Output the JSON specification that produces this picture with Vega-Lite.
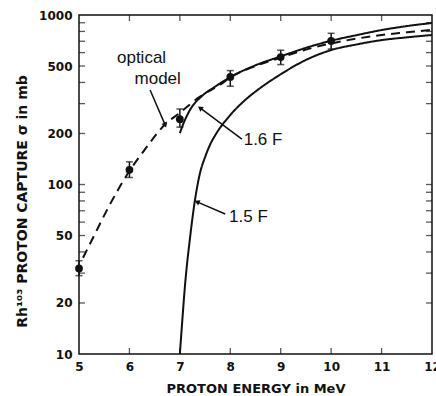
{
  "$schema": "https://vega.github.io/schema/vega-lite/v6.json",
  "width": 353,
  "height": 339,
  "autosize": {"type": "none"},
  "padding": {"left": 79, "top": 15, "right": 4, "bottom": 42},
  "background": "white",
  "config": {
    "view": {"stroke": "#111", "strokeWidth": 1.5},
    "axis": {"labelFont": "DejaVu Sans", "labelFontWeight": "bold", "labelFontSize": 12, "labelColor": "#111", "ticks": false, "domain": false, "grid": false, "titleFont": "DejaVu Sans", "titleFontWeight": "bold", "titleColor": "#111"}
  },
  "datasets": {
    "curves": [
      {"series": "optical model", "E": 5.08, "sigma": 37},
      {"series": "optical model", "E": 5.3, "sigma": 50},
      {"series": "optical model", "E": 5.6, "sigma": 75},
      {"series": "optical model", "E": 6.0, "sigma": 120},
      {"series": "optical model", "E": 6.3, "sigma": 160},
      {"series": "optical model", "E": 6.7, "sigma": 225},
      {"series": "optical model", "E": 7.0, "sigma": 265},
      {"series": "optical model", "E": 7.4, "sigma": 330},
      {"series": "optical model", "E": 7.8, "sigma": 388},
      {"series": "optical model", "E": 8.0, "sigma": 428},
      {"series": "optical model", "E": 8.5, "sigma": 500},
      {"series": "optical model", "E": 9.0, "sigma": 560},
      {"series": "optical model", "E": 9.5, "sigma": 625},
      {"series": "optical model", "E": 10.0, "sigma": 680},
      {"series": "optical model", "E": 10.5, "sigma": 725},
      {"series": "optical model", "E": 11.0, "sigma": 762},
      {"series": "optical model", "E": 11.5, "sigma": 790},
      {"series": "optical model", "E": 12.0, "sigma": 818},
      {"series": "1.6 F", "E": 7.0, "sigma": 201},
      {"series": "1.6 F", "E": 7.1, "sigma": 240},
      {"series": "1.6 F", "E": 7.2, "sigma": 275},
      {"series": "1.6 F", "E": 7.45, "sigma": 335},
      {"series": "1.6 F", "E": 7.7, "sigma": 378},
      {"series": "1.6 F", "E": 8.0, "sigma": 430},
      {"series": "1.6 F", "E": 8.5, "sigma": 505},
      {"series": "1.6 F", "E": 9.0, "sigma": 570},
      {"series": "1.6 F", "E": 9.5, "sigma": 640},
      {"series": "1.6 F", "E": 10.0, "sigma": 705},
      {"series": "1.6 F", "E": 10.5, "sigma": 760},
      {"series": "1.6 F", "E": 11.0, "sigma": 815},
      {"series": "1.6 F", "E": 11.5, "sigma": 860},
      {"series": "1.6 F", "E": 12.0, "sigma": 897},
      {"series": "1.5 F", "E": 7.0, "sigma": 10},
      {"series": "1.5 F", "E": 7.05, "sigma": 16},
      {"series": "1.5 F", "E": 7.1, "sigma": 25},
      {"series": "1.5 F", "E": 7.2, "sigma": 48},
      {"series": "1.5 F", "E": 7.3, "sigma": 81},
      {"series": "1.5 F", "E": 7.4, "sigma": 117},
      {"series": "1.5 F", "E": 7.5, "sigma": 145},
      {"series": "1.5 F", "E": 7.6, "sigma": 172},
      {"series": "1.5 F", "E": 7.7, "sigma": 195},
      {"series": "1.5 F", "E": 8.0, "sigma": 257},
      {"series": "1.5 F", "E": 8.3, "sigma": 316},
      {"series": "1.5 F", "E": 8.6, "sigma": 372},
      {"series": "1.5 F", "E": 9.0, "sigma": 447},
      {"series": "1.5 F", "E": 9.5, "sigma": 543},
      {"series": "1.5 F", "E": 10.0, "sigma": 621},
      {"series": "1.5 F", "E": 10.5, "sigma": 670},
      {"series": "1.5 F", "E": 11.0, "sigma": 711},
      {"series": "1.5 F", "E": 11.5, "sigma": 738},
      {"series": "1.5 F", "E": 12.0, "sigma": 762}
    ],
    "points": [
      {"E": 5, "sigma": 32, "lo": 29, "hi": 35.5},
      {"E": 6, "sigma": 122, "lo": 110, "hi": 136},
      {"E": 7, "sigma": 243, "lo": 218, "hi": 279},
      {"E": 8, "sigma": 431, "lo": 380, "hi": 470},
      {"E": 9, "sigma": 565, "lo": 510, "hi": 620},
      {"E": 10, "sigma": 703, "lo": 630, "hi": 780}
    ],
    "labels": [
      {"text": "optical", "E": 6.24, "sigma": 557},
      {"text": "model", "E": 6.56, "sigma": 419},
      {"text": "1.6 F", "E": 8.65, "sigma": 183},
      {"text": "1.5 F", "E": 8.36, "sigma": 64}
    ],
    "arrows": [
      {"target": "optical model", "E1": 6.41, "s1": 361, "E2": 6.71, "s2": 224},
      {"target": "1.6 F", "E1": 8.23, "s1": 185, "E2": 7.40, "s2": 283},
      {"target": "1.5 F", "E1": 7.90, "s1": 67, "E2": 7.34, "s2": 79}
    ],
    "yticks": [
      {"v": 20}, {"v": 30}, {"v": 40}, {"v": 50}, {"v": 60}, {"v": 70}, {"v": 80}, {"v": 90},
      {"v": 100}, {"v": 200}, {"v": 300}, {"v": 400}, {"v": 500}, {"v": 600}, {"v": 700}, {"v": 800}, {"v": 900}
    ],
    "xticks": [
      {"v": 6}, {"v": 7}, {"v": 8}, {"v": 9}, {"v": 10}, {"v": 11}
    ]
  },
  "layer": [
    {
      "data": {"name": "curves"},
      "mark": {"type": "line", "interpolate": "monotone", "strokeWidth": 2, "color": "#111", "clip": true},
      "encoding": {
        "x": {"field": "E", "type": "quantitative", "scale": {"domain": [5, 12], "nice": false, "zero": false},
          "axis": {"orient": "bottom", "values": [5, 6, 7, 8, 9, 10, 11, 12], "labelFlush": false, "labelPadding": 7, "title": "PROTON ENERGY in MeV", "titleFontSize": 13, "titlePadding": 10}},
        "y": {"field": "sigma", "type": "quantitative", "scale": {"type": "log", "domain": [10, 1000], "nice": false},
          "axis": {"orient": "left", "values": [10, 20, 50, 100, 200, 500, 1000], "labelFlush": false, "labelExpr": "format(datum.value, 'd')", "labelPadding": 7, "title": "Rh¹⁰³ PROTON CAPTURE σ in mb", "titleFontSize": 14, "titleX": -50, "titleY": 186}},
        "detail": {"field": "series"},
        "strokeDash": {"field": "series", "type": "nominal", "scale": {"domain": ["optical model", "1.6 F", "1.5 F"], "range": [[9, 6], [1, 0], [1, 0]]}, "legend": null}
      }
    },
    {
      "data": {"name": "yticks"},
      "mark": {"type": "tick", "orient": "horizontal", "color": "#111", "size": 6, "thickness": 1.3, "xOffset": 3},
      "encoding": {
        "x": {"datum": 5, "type": "quantitative"},
        "y": {"field": "v", "type": "quantitative"}
      }
    },
    {
      "data": {"name": "yticks"},
      "mark": {"type": "tick", "orient": "horizontal", "color": "#111", "size": 6, "thickness": 1.3, "xOffset": -3},
      "encoding": {
        "x": {"datum": 12, "type": "quantitative"},
        "y": {"field": "v", "type": "quantitative"}
      }
    },
    {
      "data": {"name": "xticks"},
      "mark": {"type": "tick", "orient": "vertical", "color": "#111", "size": 6, "thickness": 1.3, "yOffset": -3},
      "encoding": {
        "x": {"field": "v", "type": "quantitative"},
        "y": {"datum": 10, "type": "quantitative"}
      }
    },
    {
      "data": {"name": "xticks"},
      "mark": {"type": "tick", "orient": "vertical", "color": "#111", "size": 6, "thickness": 1.3, "yOffset": 3},
      "encoding": {
        "x": {"field": "v", "type": "quantitative"},
        "y": {"datum": 1000, "type": "quantitative"}
      }
    },
    {
      "data": {"name": "points"},
      "mark": {"type": "rule", "color": "#111", "strokeWidth": 1.5},
      "encoding": {
        "x": {"field": "E", "type": "quantitative"},
        "y": {"field": "lo", "type": "quantitative"},
        "y2": {"field": "hi"}
      }
    },
    {
      "data": {"name": "points"},
      "mark": {"type": "tick", "orient": "horizontal", "color": "#111", "size": 7, "thickness": 1.5},
      "encoding": {
        "x": {"field": "E", "type": "quantitative"},
        "y": {"field": "lo", "type": "quantitative"}
      }
    },
    {
      "data": {"name": "points"},
      "mark": {"type": "tick", "orient": "horizontal", "color": "#111", "size": 7, "thickness": 1.5},
      "encoding": {
        "x": {"field": "E", "type": "quantitative"},
        "y": {"field": "hi", "type": "quantitative"}
      }
    },
    {
      "data": {"name": "points"},
      "mark": {"type": "point", "shape": "circle", "filled": true, "color": "#111", "size": 60, "opacity": 1},
      "encoding": {
        "x": {"field": "E", "type": "quantitative"},
        "y": {"field": "sigma", "type": "quantitative"}
      }
    },
    {
      "data": {"name": "labels"},
      "mark": {"type": "text", "font": "Liberation Sans", "fontSize": 17, "color": "#111", "align": "center", "baseline": "middle"},
      "encoding": {
        "x": {"field": "E", "type": "quantitative"},
        "y": {"field": "sigma", "type": "quantitative"},
        "text": {"field": "text"}
      }
    },
    {
      "data": {"name": "arrows"},
      "mark": {"type": "rule", "color": "#111", "strokeWidth": 1.5},
      "encoding": {
        "x": {"field": "E1", "type": "quantitative"},
        "y": {"field": "s1", "type": "quantitative"},
        "x2": {"field": "E2"},
        "y2": {"field": "s2"}
      }
    },
    {
      "data": {"name": "arrows"},
      "transform": [{"filter": "datum.target === 'optical model'"}],
      "mark": {"type": "point", "shape": "triangle-up", "filled": true, "color": "#111", "size": 35, "opacity": 1, "angle": 157},
      "encoding": {
        "x": {"field": "E2", "type": "quantitative"},
        "y": {"field": "s2", "type": "quantitative"}
      }
    },
    {
      "data": {"name": "arrows"},
      "transform": [{"filter": "datum.target === '1.6 F'"}],
      "mark": {"type": "point", "shape": "triangle-up", "filled": true, "color": "#111", "size": 35, "opacity": 1, "angle": 306},
      "encoding": {
        "x": {"field": "E2", "type": "quantitative"},
        "y": {"field": "s2", "type": "quantitative"}
      }
    },
    {
      "data": {"name": "arrows"},
      "transform": [{"filter": "datum.target === '1.5 F'"}],
      "mark": {"type": "point", "shape": "triangle-up", "filled": true, "color": "#111", "size": 35, "opacity": 1, "angle": 293},
      "encoding": {
        "x": {"field": "E2", "type": "quantitative"},
        "y": {"field": "s2", "type": "quantitative"}
      }
    }
  ]
}
